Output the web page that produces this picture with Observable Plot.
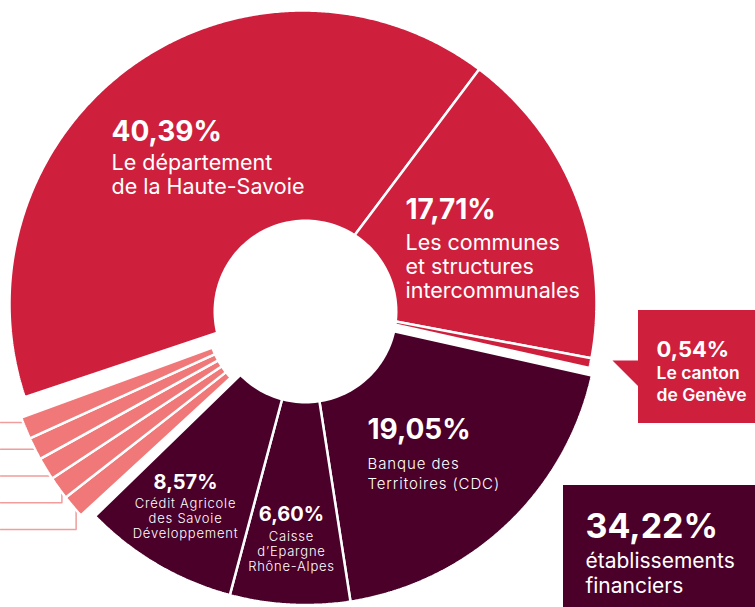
<!DOCTYPE html>
<html><head><meta charset="utf-8">
<script src="https://cdn.jsdelivr.net/npm/d3@7"></script>
<script src="https://cdn.jsdelivr.net/npm/@observablehq/plot@0.6"></script>
<style>
html,body{margin:0;padding:0;background:#fff}
#chart{width:755px;height:607px;overflow:hidden}
</style>
</head><body><div id="chart"></div>
<script>
// ---------- data ----------
const groups = ["collectivites","collectivites","collectivites","financiers","financiers","financiers","autres","autres","autres","autres","autres"];
const shares = [40.39, 17.71, 0.54, 19.05, 6.60, 8.57, 1.46, 1.44, 1.42, 1.42, 1.40];
const pctLabels = ["40,39%", "17,71%", "0,54%", "19,05%", "6,60%", "8,57%"];
const names = [
  ["Le département", "de la Haute-Savoie"],
  ["Les communes", "et structures", "intercommunales"],
  ["Le canton", "de Genève"],
  ["Banque des", "Territoires (CDC)"],
  ["Caisse", "d’Epargne", "Rhône-Alpes"],
  ["Crédit Agricole", "des Savoie", "Développement"]
];
const totalLabel = "34,22%";
const totalName = ["établissements", "financiers"];

// ---------- layout / style ----------
const W = 755, H = 607;
const C = {x: 305, y: 311};
const R = 293.5, HOLE = 92;
const startAngle = -108.5;
const groupStyle = {
  collectivites: {dx: -2.5, dy: -7.5, inner: 0, pad: 0, fill: "#CE1F3D"},
  financiers:    {dx: 0,    dy: 0,    inner: 0, pad: 0, fill: "#4A0029"},
  autres:        {dx: -8.6, dy: 5.2,  inner: 90, pad: 1.6, fill: "#F17878"}
};
const rad = a => a * Math.PI / 180;
const pt = (cx, cy, r, a) => ({x: cx + r * Math.sin(rad(a)), y: cy - r * Math.cos(rad(a))});

let acc = startAngle;
const slices = shares.map((v, i) => { const a0 = acc; acc += v * 3.6; return {i, group: groups[i], value: v, a0, a1: acc}; });
for (const g of Object.keys(groupStyle)) {
  const s = slices.filter(d => d.group === g);
  const lo = s[0].a0, hi = s[s.length - 1].a1, p = groupStyle[g].pad;
  const k = (hi - lo - 2 * p) / (hi - lo);
  s.forEach(d => { d.a0 = lo + p + (d.a0 - lo) * k; d.a1 = lo + p + (d.a1 - lo) * k; });
}
function slicePoly(d) {
  const st = groupStyle[d.group];
  const cx = C.x + st.dx, cy = C.y + st.dy;
  const n = Math.max(2, Math.ceil((d.a1 - d.a0) / 0.4));
  const pts = [];
  for (let j = 0; j <= n; j++) pts.push(pt(cx, cy, R, d.a0 + (d.a1 - d.a0) * j / n));
  if (st.inner > 0) { for (let j = n; j >= 0; j--) pts.push(pt(cx, cy, st.inner, d.a0 + (d.a1 - d.a0) * j / n)); }
  else pts.push({x: cx, y: cy});
  pts.push(pts[0]);
  return pts;
}
const hole = d3.range(0, 361, 2).map(a => pt(C.x, C.y, HOLE, a));

// leader lines for the small "autres" slices
const autres = slices.filter(d => d.group === "autres");
const leaderBottom = 529, leaderStep = 26.75;
const leaders = autres.map((d, j) => {
  const st = groupStyle.autres;
  const e = pt(C.x + st.dx, C.y + st.dy, R - 4, (d.a0 + d.a1) / 2);
  const ly = leaderBottom - j * leaderStep;
  return [{x: 0, y: ly}, {x: e.x, y: ly}, {x: e.x, y: e.y}];
});

// label layout
const labelPos = [
  {x: 111, y: 140, anchor: "start", ps: 28, ns: 21.5, ny: 169, lh: 24, nw: 400, sp: false},
  {x: 405, y: 218, anchor: "start", ps: 28, ns: 21.5, ny: 249, lh: 24, nw: 400, sp: false},
  {x: 656, y: 356, anchor: "start", ps: 22, ns: 17.5, ny: 378, lh: 22, nw: 600, sp: false},
  {x: 367, y: 438, anchor: "start", ps: 28, ns: 15, ny: 468, lh: 20, nw: 300, sp: true},
  {x: 291, y: 520, anchor: "middle", ps: 20, ns: 13, ny: 540, lh: 15, nw: 300, sp: true},
  {x: 185, y: 488, anchor: "middle", ps: 20, ns: 13, ny: 507, lh: 15, nw: 300, sp: true}
];

const marks = [];
leaders.forEach(l => marks.push(Plot.line(l, {x: "x", y: "y", stroke: "#F29C9C", strokeWidth: 1.5})));
slices.forEach(d => marks.push(Plot.line(slicePoly(d), {x: "x", y: "y", fill: groupStyle[d.group].fill, stroke: "white", strokeWidth: 2.5, strokeLinejoin: "miter"})));
marks.push(Plot.line(hole, {x: "x", y: "y", fill: "white", stroke: "none"}));
// Genève callout
marks.push(Plot.rect([{x1: 638, x2: 755, y1: 310, y2: 423}], {x1: "x1", x2: "x2", y1: "y1", y2: "y2", fill: "#CE1F3D"}));
marks.push(Plot.line([{x: 612, y: 360}, {x: 639, y: 360}, {x: 639, y: 387}, {x: 612, y: 360}], {x: "x", y: "y", fill: "#CE1F3D", stroke: "none"}));
// financiers total box
marks.push(Plot.rect([{x1: 563, x2: 755, y1: 485, y2: 607}], {x1: "x1", x2: "x2", y1: "y1", y2: "y2", fill: "#4A0029"}));

const FONT = "Inter, 'Noto Sans', sans-serif";
pctLabels.forEach((p, i) => {
  const L = labelPos[i];
  marks.push(Plot.text([p], {x: () => L.x, y: () => L.y, text: d => d, fill: "white", fontSize: L.ps, fontWeight: 700, fontFamily: FONT, textAnchor: L.anchor, lineAnchor: "bottom"}));
  marks.push(Plot.text(names[i], {x: () => L.x, y: (d, j) => L.ny + j * L.lh, text: d => d, fill: "white", fontSize: L.ns, fontWeight: L.nw, fontFamily: FONT, textAnchor: L.anchor, lineAnchor: "bottom", ariaDescription: L.sp ? "spaced" : "normal"}));
});
marks.push(Plot.text([totalLabel], {x: () => 585, y: () => 537, text: d => d, fill: "white", fontSize: 34, fontWeight: 700, fontFamily: FONT, textAnchor: "start", lineAnchor: "bottom"}));
marks.push(Plot.text(totalName, {x: () => 585, y: (d, j) => 567 + j * 25, text: d => d, fill: "white", fontSize: 21, fontWeight: 400, fontFamily: FONT, textAnchor: "start", lineAnchor: "bottom"}));

const chart = Plot.plot({
  width: W, height: H, margin: 0,
  x: {domain: [0, W], range: [0, W], axis: null},
  y: {domain: [0, H], range: [0, H], axis: null},
  style: {background: "white", overflow: "hidden"},
  marks
});
chart.querySelectorAll('[aria-description="spaced"] text').forEach(t => t.style.letterSpacing = "0.06em");
document.getElementById("chart").appendChild(chart);
</script>
</body></html>
